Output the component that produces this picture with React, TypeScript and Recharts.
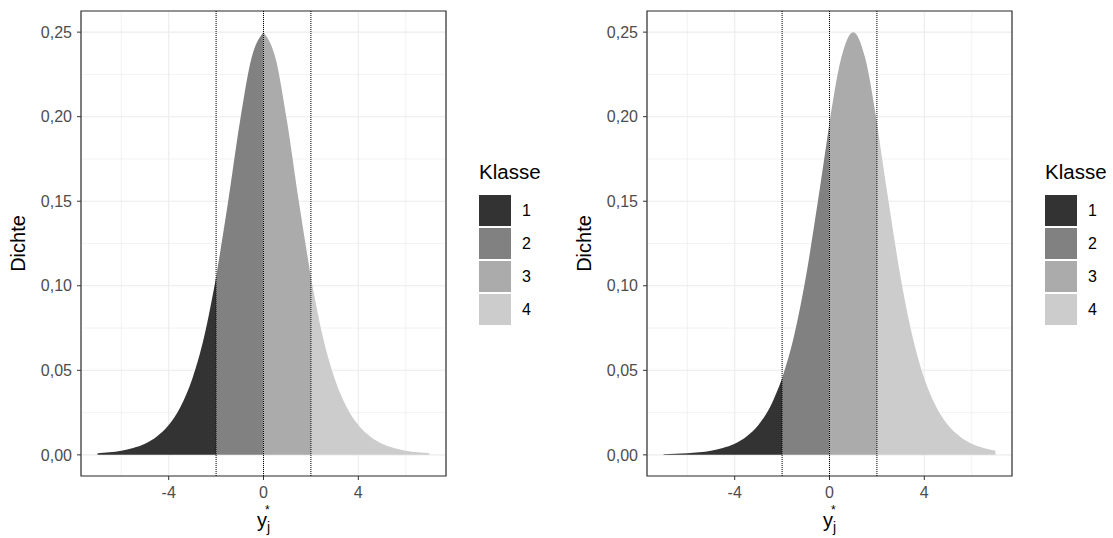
import { Area, CartesianGrid, ComposedChart, ReferenceArea, ReferenceLine, XAxis, YAxis } from "recharts";

// x grid of the density curves
const xs = [
  -7, -6.5, -6, -5.5, -5, -4.5, -4, -3.5, -3, -2.5, -2, -1.5, -1, -0.5, 0,
  0.5, 1, 1.5, 2, 2.5, 3, 3.5, 4, 4.5, 5, 5.5, 6, 6.5, 7,
];

// left panel: density centred at 0
const densLeft = [
  0.0009, 0.0015, 0.0025, 0.0041, 0.0066, 0.0109, 0.0177, 0.0285, 0.0452, 0.0701,
  0.105, 0.1491, 0.1966, 0.235, 0.25, 0.235, 0.1966, 0.1491, 0.105, 0.0701,
  0.0452, 0.0285, 0.0177, 0.0109, 0.0066, 0.0041, 0.0025, 0.0015, 0.0009,
];

// right panel: density centred at 1
const densRight = [
  0.0003, 0.0006, 0.0009, 0.0015, 0.0025, 0.0041, 0.0066, 0.0109, 0.0177, 0.0285,
  0.0452, 0.0701, 0.105, 0.1491, 0.1966, 0.235, 0.25, 0.235, 0.1966, 0.1491,
  0.105, 0.0701, 0.0452, 0.0285, 0.0177, 0.0109, 0.0066, 0.0041, 0.0025,
];

const cutpoints = [-2, 0, 2];
const classes = ["1", "2", "3", "4"];
const classColors = ["#333333", "#818181", "#ababab", "#cccccc"];

const xTicks = [-4, 0, 4];
const xMinor = [-6, -2, 2, 6];
const yTicks = [0, 0.05, 0.1, 0.15, 0.2, 0.25];
const yMinor = [0.025, 0.075, 0.125, 0.175, 0.225];

const X_DOMAIN: [number, number] = [-7.7, 7.7];
const Y_DOMAIN: [number, number] = [-0.0125, 0.2625];

const FONT = "'Liberation Sans', Arial, Helvetica, sans-serif";

function buildRows(dens: number[]) {
  const lo = [-Infinity, ...cutpoints];
  const hi = [...cutpoints, Infinity];
  return xs.map((x, i) => {
    const row: Record<string, number | null> = { x };
    classes.forEach((c, k) => {
      row["c" + c] = x >= lo[k] && x <= hi[k] ? dens[i] : null;
    });
    return row;
  });
}

const fmtY = (v: number) => v.toFixed(2).replace(".", ",");

function XTitle(props: any) {
  const vb = props.viewBox || {};
  const cx = vb.x + vb.width / 2;
  const y = vb.y + 51;
  return (
    <text x={cx} y={y} textAnchor="middle" fontFamily={FONT} fontSize={20} fill="#000">
      y
      <tspan dy={5} fontSize={14}>j</tspan>
      <tspan dx={-5} dy={-18} fontSize={12}>*</tspan>
    </text>
  );
}

function YTitle(props: any) {
  const vb = props.viewBox || {};
  const x = vb.x + 25;
  const y = vb.y + vb.height / 2;
  return (
    <text
      x={x}
      y={y}
      textAnchor="middle"
      fontFamily={FONT}
      fontSize={20}
      fill="#000"
      transform={`rotate(-90, ${x}, ${y})`}
    >
      Dichte
    </text>
  );
}

function Panel({ dens, left }: { dens: number[]; left: number }) {
  const rows = buildRows(dens);
  const tickStyle = { fill: "#4d4d4d", fontSize: 16, fontFamily: FONT };
  return (
    <div style={{ position: "absolute", left, top: 0 }}>
      <ComposedChart
        width={560}
        height={538}
        data={rows}
        margin={{ top: 11, right: 114, bottom: 0, left: 0 }}
      >
        {/* minor grid, bound to hidden axes so it stays under the areas */}
        <CartesianGrid xAxisId="minor" yAxisId="minor" stroke="#ebebeb" strokeWidth={0.6} />
        <CartesianGrid stroke="#ebebeb" strokeWidth={1.1} />
        <XAxis xAxisId="minor" dataKey="x" type="number" domain={X_DOMAIN} ticks={xMinor} allowDataOverflow hide />
        <YAxis yAxisId="minor" type="number" domain={Y_DOMAIN} ticks={yMinor} allowDataOverflow hide />
        <XAxis
          dataKey="x"
          type="number"
          domain={X_DOMAIN}
          ticks={xTicks}
          allowDataOverflow
          height={62}
          tickSize={4}
          tickMargin={7}
          tick={tickStyle}
          axisLine={false}
          tickLine={{ stroke: "#333333" }}
          label={<XTitle />}
        />
        <YAxis
          type="number"
          domain={Y_DOMAIN}
          ticks={yTicks}
          allowDataOverflow
          width={81}
          tickSize={4}
          tickMargin={5}
          tick={tickStyle}
          tickFormatter={fmtY}
          axisLine={false}
          tickLine={{ stroke: "#333333" }}
          label={<YTitle />}
        />
        {classes.map((c, k) => (
          <Area
            key={c}
            dataKey={"c" + c}
            type="monotone"
            stroke="none"
            fill={classColors[k]}
            fillOpacity={1}
            baseValue={0}
            isAnimationActive={false}
            activeDot={false}
            dot={false}
          />
        ))}
        {cutpoints.map((v) => (
          <ReferenceLine
            key={v}
            x={v}
            stroke="#000"
            strokeWidth={1}
            strokeDasharray="1 1"
          />
        ))}
        <ReferenceArea
          x1={X_DOMAIN[0]}
          x2={X_DOMAIN[1]}
          y1={Y_DOMAIN[0]}
          y2={Y_DOMAIN[1]}
          fill="none"
          fillOpacity={0}
          stroke="#333333"
          strokeWidth={1.2}
        />
      </ComposedChart>
      <div style={{ position: "absolute", left: 479, top: 160, fontFamily: FONT }}>
        <div style={{ fontSize: 20.5, lineHeight: "23px", color: "#000", marginBottom: 12 }}>Klasse</div>
        {classes.map((c, k) => (
          <div key={c} style={{ display: "flex", alignItems: "center", height: 31, marginBottom: 2 }}>
            <div style={{ width: 32, height: 31, background: classColors[k] }} />
            <span style={{ marginLeft: 11, fontSize: 16, color: "#000" }}>{c}</span>
          </div>
        ))}
      </div>
    </div>
  );
}

export default function App() {
  return (
    <div
      style={{
        position: "absolute",
        left: 0,
        top: 0,
        width: 1113,
        height: 538,
        background: "#fff",
        overflow: "hidden",
      }}
    >
      <Panel dens={densLeft} left={0} />
      <Panel dens={densRight} left={566} />
    </div>
  );
}
